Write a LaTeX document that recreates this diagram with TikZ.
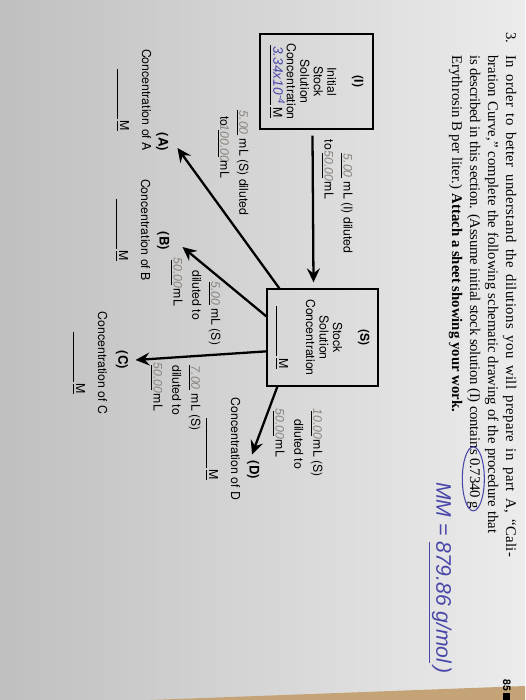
\documentclass[tikz,border=0pt]{standalone}
\usepackage{fontspec}
\setmainfont{Liberation Serif}
\setsansfont{TeX Gyre Heros}
\newfontfamily\handfont{Liberation Sans}
\usetikzlibrary{arrows.meta, calc, positioning}

\definecolor{ink}{RGB}{72,70,168}
\definecolor{pencil}{RGB}{138,132,126}
\definecolor{wood}{RGB}{196,164,118}

\newcommand{\blank}[2]{\underline{\makebox[#1]{\handfont\itshape\color{pencil}#2}}}
\newcommand{\molar}{\underline{M}}

\begin{document}
\begin{tikzpicture}[x=0.02cm, y=-0.02cm]
  \tikzset{every node/.style={rotate=-90, inner sep=0pt},
    qtext/.style={font=\fontsize{8.4}{10.25}\selectfont, anchor=base west},
    box/.style={draw, line width=0.75pt, align=center, font=\sffamily\fontsize{7}{7.7}\selectfont},
    tag/.style={font=\sffamily\bfseries\fontsize{7.5}{8}\selectfont},
    conc/.style={font=\sffamily\fontsize{7}{8}\selectfont, align=center},
    lbl/.style={font=\sffamily\fontsize{7}{10.8}\selectfont, align=left, anchor=north west},
    arr/.style={line width=1.3pt, -{Stealth[length=2.8mm, width=2.6mm, inset=1mm]}}}

  % photo of the page
  \shade[left color=gray!50, right color=gray!15] (0,0) rectangle (525,700);
  \fill[wood] (150,700) -- (525,686) -- (525,700) -- cycle;
  \useasboundingbox (0,0) rectangle (525,700);

  % question text
  \node[qtext, anchor=base east] (num) at (506,44) {3.};
  \node[qtext] (q1) at (506,55) {\makebox[10.04cm][s]{\addfontfeature{LetterSpace=2.5}In order to better understand the dilutions you will prepare in part A, ``Cali-}};
  \node[qtext] (q2) at (488,55) {\makebox[9.56cm][s]{bration Curve,'' complete the following schematic drawing of the procedure that}};
  \node[qtext] (q3) at (470,55) {\addfontfeature{LetterSpace=-1.5}is described in this section. (Assume initial stock solution (I) contain};
  \node[qtext] (q3b) at (q3.base east) {\addfontfeature{LetterSpace=-1.5}s 0.7340~g};
  \node[qtext] (q4) at (452,55) {Erythrosin B per liter.) \textbf{Attach a sheet showing your work.}};
  \draw[ink, line width=0.6pt] (q3b.center) ellipse [x radius=11, y radius=32];
  \node[ink, font=\handfont\itshape\fontsize{12}{12}\selectfont, anchor=west] (mm) at (440,482)
    {MM = \underline{879.86 g/mol}\,)};
  \node[font=\sffamily\bfseries\fontsize{6}{6}\selectfont] (page) at (507,690) {85\,\rule{4pt}{4pt}};

  % boxes
  \node[box, minimum width=1.9cm, minimum height=2.26cm] (I) at (316.5,81.5)
    {\textbf{(I)}\\[7.7pt]Initial\\Stock\\Solution\\Concentration\\
     \blank{1.2cm}{\color{ink}\fontsize{7.8}{8}\selectfont 3.34x10\textsuperscript{-4}}\,\molar};
  \node[box, minimum width=1.94cm, minimum height=2.22cm] (S) at (322.5,337.5)
    {\textbf{(S)}\\[7.7pt]Stock\\Solution\\Concentration\\[7.7pt]\blank{1cm}{}\,\molar};

  % dilutions
  \node[tag] (A) at (162,142) {(A)};
  \node[tag] (B) at (163,241) {(B)};
  \node[tag] (C) at (122,360) {(C)};
  \node[tag] (D) at (253,470) {(D)};
  \node[conc] (concA) at (134,100) {Concentration of A\\[4.5pt]\blank{1cm}{}\,\molar};
  \node[conc] (concB) at (133,230) {Concentration of B\\[4.5pt]\blank{1cm}{}\,\molar};
  \node[conc] (concC) at (90,363) {Concentration of C\\[4.5pt]\blank{1cm}{}\,\molar};
  \node[conc] (concD) at (223,449) {Concentration of D\\[4.5pt]\blank{1cm}{}\,\molar};

  \node[lbl] (labI) at (353,153) {\blank{0.5cm}{5.00} mL (I) diluted\\\llap{to }\blank{0.5cm}{50.00} mL};
  \node[lbl] (labA) at (249,110) {\blank{0.5cm}{5.00} mL (S) diluted\\\hspace*{0.12cm}to \blank{0.55cm}{100.00} mL};
  \node[lbl] (labB) at (221,260) {\hspace*{0.44cm}\blank{0.45cm}{5.00} mL (S)\\\hspace*{0.2cm}diluted to\\\blank{0.5cm}{50.00} mL};
  \node[lbl] (labC) at (201,365) {\blank{0.5cm}{7.00} mL (S)\\diluted to\\\blank{0.5cm}{50.00} mL};
  \node[lbl] (labD) at (323,411) {\blank{0.5cm}{10.00} mL (S)\\\hspace*{0.16cm}diluted to\\\blank{0.5cm}{50.00} mL};

  \draw[arr] ($(I.east)+(-4,6)$) -- ($(S.west)+(-9,-6)$);
  \draw[arr] ($(S.south west)+(13,0)$) -- ($(A.north)+(9,6)$);
  \draw[arr] ($(S.south west)+(0,28)$) -- ($(B.north)+(13,6)$);
  \draw[arr] ($(S.south west)+(0,63)$) -- ($(C.north)+(7,0)$);
  \draw[arr] ($(S.south east)+(11,0)$) -- ($(D.west)+(-1,-6)$);
\end{tikzpicture}
\end{document}
